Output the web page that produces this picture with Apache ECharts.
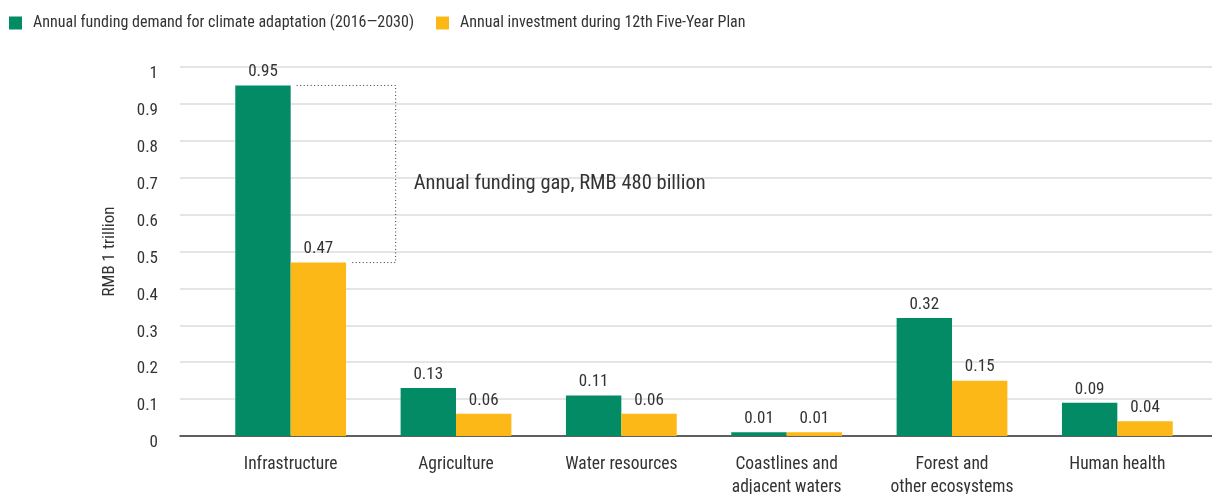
<!DOCTYPE html>
<html>
<head>
<meta charset="utf-8">
<script src="https://cdn.jsdelivr.net/npm/echarts@6/dist/echarts.min.js"></script>
<style>
  html, body { margin: 0; padding: 0; background: #fff; }
  #chart { width: 1212px; height: 494px; }
</style>
</head>
<body>
<div id="chart"></div>
<script>
const categories = ['Infrastructure', 'Agriculture', 'Water resources', 'Coastlines and\nadjacent waters', 'Forest and\nother ecosystems', 'Human health']
const demand = [0.95, 0.13, 0.11, 0.01, 0.32, 0.09]
const investment = [0.47, 0.06, 0.06, 0.01, 0.15, 0.04]
const seriesNames = ['Annual funding demand for climate adaptation (2016\u20142030)', 'Annual investment during 12th Five-Year Plan']
const gapLabel = 'Annual funding gap, RMB 480 billion'

const FONT = '"Roboto Condensed", "DejaVu Sans Condensed", sans-serif'
const TEXT = '#333'
const GREEN = '#038b66'
const YELLOW = '#fbb817'

const chart = echarts.init(document.getElementById('chart'))

// grid 0 carries the gridlines and y labels, grid 1 the bars
const grids = [
  { left: 180, right: 0, top: 67, bottom: 58, outerBoundsMode: 'none' },
  { left: 208, right: 12, top: 67, bottom: 58, outerBoundsMode: 'none' },
]

const valueLabel = {
  show: true,
  position: 'top',
  distance: 5,
  color: TEXT,
  fontFamily: FONT,
  fontSize: 17,
}

chart.setOption({
  animation: false,
  textStyle: { fontFamily: FONT },
  legend: {
    left: 4,
    top: 10,
    icon: 'rect',
    itemWidth: 13,
    itemHeight: 13,
    itemGap: 22,
    textStyle: { color: TEXT, fontSize: 16, fontFamily: FONT, padding: [0, 0, 0, 6] },
    data: seriesNames,
  },
  grid: grids,
  xAxis: [
    {
      gridIndex: 0,
      type: 'value',
      min: 0,
      max: 1,
      axisLine: { show: true, lineStyle: { color: '#333', width: 1.5 } },
      axisTick: { show: false },
      axisLabel: { show: false },
      splitLine: { show: false },
    },
    {
      gridIndex: 1,
      type: 'category',
      data: categories,
      axisLine: { show: false },
      axisTick: { show: false },
      axisLabel: { interval: 0, color: TEXT, fontSize: 17.5, fontFamily: FONT, margin: 17, lineHeight: 23 },
    },
  ],
  yAxis: [
    {
      gridIndex: 0,
      type: 'value',
      min: 0,
      max: 1,
      interval: 0.1,
      name: 'RMB 1 trillion',
      nameLocation: 'middle',
      nameGap: 62,
      nameTextStyle: { color: TEXT, fontSize: 17, fontFamily: FONT },
      axisLine: { show: false },
      axisTick: { show: false },
      // tick labels sit a little below their gridlines
      axisLabel: { color: TEXT, fontSize: 17, fontFamily: FONT, margin: 22, verticalAlign: 'top', lineHeight: 14 },
      splitLine: { lineStyle: { color: '#dcdcdc', width: 1.5 } },
    },
    {
      gridIndex: 1,
      type: 'value',
      min: 0,
      max: 1,
      show: false,
    },
  ],
  series: [
    {
      name: seriesNames[0],
      type: 'bar',
      xAxisIndex: 1,
      yAxisIndex: 1,
      data: demand,
      barGap: 0,
      barCategoryGap: '33%',
      itemStyle: { color: GREEN },
      label: valueLabel,
    },
    {
      name: seriesNames[1],
      type: 'bar',
      xAxisIndex: 1,
      yAxisIndex: 1,
      data: investment,
      itemStyle: { color: YELLOW },
      label: valueLabel,
    },
  ],
})

// dotted bracket showing the gap for the first category
function drawGap() {
  const i = 0
  const top = chart.convertToPixel({ xAxisIndex: 1, yAxisIndex: 1 }, [i, demand[i]])
  const bottom = chart.convertToPixel({ xAxisIndex: 1, yAxisIndex: 1 }, [i, investment[i]])
  const band = chart.convertToPixel({ xAxisIndex: 1, yAxisIndex: 1 }, [i + 1, 0])[0] - top[0]
  const xr = top[0] + band * 0.635
  const xTop = top[0] + 6
  const xBottom = top[0] + band / 3 + 4
  chart.setOption({
    graphic: [
      {
        type: 'polyline',
        shape: { points: [[xTop, top[1]], [xr, top[1]], [xr, bottom[1]], [xBottom, bottom[1]]] },
        style: { stroke: '#333', lineWidth: 1, lineDash: [1, 2.5], fill: null },
        silent: true,
      },
      {
        type: 'text',
        x: xr + 18,
        y: (top[1] + bottom[1]) / 2 + 10,
        style: {
          text: gapLabel,
          fill: TEXT,
          font: '20.5px ' + FONT,
          verticalAlign: 'middle',
        },
        silent: true,
      },
    ],
  })
}
drawGap()
</script>
</body>
</html>
